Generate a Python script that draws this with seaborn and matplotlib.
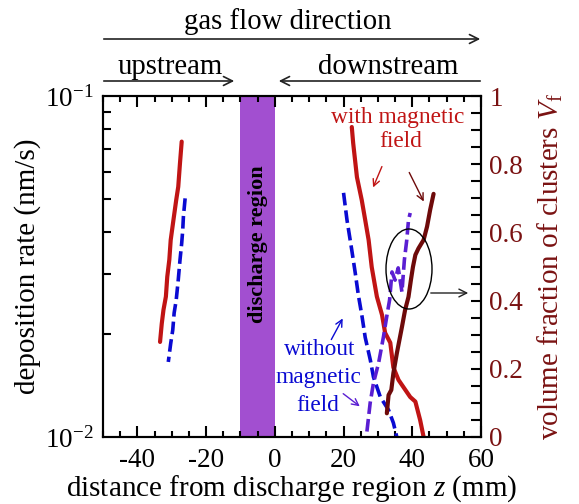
import numpy as np
import pandas as pd
import matplotlib
matplotlib.use("Agg")
import matplotlib.pyplot as plt
import seaborn as sns
from matplotlib.patches import Ellipse, FancyArrowPatch
from matplotlib.ticker import MultipleLocator, LogLocator, NullFormatter

# ---------------- data ----------------
# deposition rate with magnetic field (nm/s), upstream
up_with_z = [-27.1, -27.6, -28.1, -28.7, -29.5, -30.3, -30.7, -31.3, -31.7, -32.4, -32.9, -33.4]
up_with_r = [0.0735, 0.0635, 0.0542, 0.0495, 0.0433, 0.0378, 0.0331, 0.0295, 0.0258, 0.0236, 0.0215, 0.0190]
# deposition rate without magnetic field, upstream
up_wo_z = [-26.1, -26.6, -26.8, -27.1, -27.6, -28.1, -28.7, -29.3, -29.7, -30.3, -31.0]
up_wo_r = [0.0501, 0.0443, 0.0404, 0.0370, 0.0330, 0.0289, 0.0252, 0.0231, 0.0206, 0.0188, 0.0166]
# deposition rate with magnetic field, downstream
dn_with_z = [22.4, 22.8, 23.9, 25.3, 26.3, 27.3, 28.2, 29.7, 31.2, 32.1, 33.6, 34.5, 36.0, 39.4, 40.9, 42.3, 43.3]
dn_with_r = [0.0811, 0.0728, 0.0578, 0.0495, 0.0433, 0.0378, 0.0315, 0.0258, 0.0228, 0.0202,
             0.0189, 0.0160, 0.0147, 0.0131, 0.0127, 0.0112, 0.0100]
# deposition rate without magnetic field, downstream
dn_wo_z = [20.0, 21.0, 22.4, 23.4, 24.3, 25.4, 26.3, 27.8, 28.7, 30.7, 33.1, 34.5, 35.5]
dn_wo_r = [0.0520, 0.0433, 0.0353, 0.0303, 0.0261, 0.0225, 0.0196, 0.0168, 0.0150, 0.0131,
           0.0120, 0.0110, 0.0100]
# volume fraction of clusters Vf without magnetic field
vf_wo_z = [26.8, 27.75, 28.7, 30.2, 31.6, 32.6, 33.4, 34.1, 35.0, 35.9, 37.0, 37.7, 38.4, 38.9, 39.4]
vf_wo_v = [0.016, 0.100, 0.158, 0.217, 0.293, 0.355, 0.402, 0.484, 0.460, 0.496, 0.425, 0.519,
           0.578, 0.636, 0.657]
# volume fraction of clusters Vf with magnetic field
vf_with_z = [32.6, 33.1, 33.9, 34.5, 35.5, 37.0, 37.9, 38.9, 39.6, 40.2, 40.9, 41.8, 43.3, 44.3, 45.2, 46.2]
vf_with_v = [0.0695, 0.123, 0.138, 0.187, 0.245, 0.323, 0.372, 0.411, 0.460, 0.499, 0.534, 0.553,
             0.578, 0.617, 0.666, 0.713]

x_ticks = [-40, -20, 0, 20, 40, 60]
right_ticks = [0, 0.2, 0.4, 0.6, 0.8, 1]
right_tick_labels = ["0", "0.2", "0.4", "0.6", "0.8", "1"]
discharge_span = [-10, 0]

# ---------------- style ----------------
sns.set_style("ticks")
plt.rcParams["font.family"] = ["Liberation Serif", "DejaVu Serif"]
plt.rcParams["mathtext.fontset"] = "custom"
plt.rcParams["mathtext.rm"] = "Liberation Serif"
plt.rcParams["mathtext.it"] = "Liberation Serif:italic"
plt.rcParams["axes.unicode_minus"] = False
for k in ("text.color", "axes.labelcolor", "xtick.color", "ytick.color", "axes.edgecolor"):
    plt.rcParams[k] = "black"

RED = "#C01414"
BLUE = "#0A0AD2"
PURPLE = "#5A1ED2"
DARKRED = "#6E0A0A"
AXRED = "#7A1212"
BAND = "#A24FD0"

W, H = 579, 504
fig = plt.figure(figsize=(W / 100, H / 100), dpi=100)
L, R, T, B = 103, 481, 96, 437
ax = fig.add_axes([L / W, (H - B) / H, (R - L) / W, (B - T) / H])
ax2 = ax.twinx()

FS_TICK = 19.5
FS_LAB = 21
FS_TOP = 20.7
FS_ANN = 16.8

# discharge band
ax.axvspan(discharge_span[0], discharge_span[1], color=BAND, lw=0, zorder=0)
ax.text(-5, 0.0368, "discharge region", rotation=90, ha="center", va="center",
        fontsize=16, fontweight="bold", color="black", zorder=3)

def seg(z, v):
    return pd.DataFrame({"z": z, "v": v})

lw_solid = 3.0
lw_dash = 2.6
dash = (3.5, 1.4)

sns.lineplot(data=seg(up_with_z, up_with_r), x="z", y="v", sort=False, ax=ax,
             color=RED, lw=lw_solid, estimator=None)
sns.lineplot(data=seg(dn_with_z, dn_with_r), x="z", y="v", sort=False, ax=ax,
             color=RED, lw=lw_solid, estimator=None)
sns.lineplot(data=seg(up_wo_z, up_wo_r), x="z", y="v", sort=False, ax=ax,
             color=BLUE, lw=lw_dash, estimator=None)
sns.lineplot(data=seg(dn_wo_z, dn_wo_r), x="z", y="v", sort=False, ax=ax,
             color=BLUE, lw=lw_dash, estimator=None)
for ln in ax.lines[2:4]:
    ln.set_dashes(dash)

sns.lineplot(data=seg(vf_wo_z, vf_wo_v), x="z", y="v", sort=False, ax=ax2,
             color=PURPLE, lw=lw_dash, estimator=None)
ax2.lines[0].set_dashes(dash)
sns.lineplot(data=seg(vf_with_z, vf_with_v), x="z", y="v", sort=False, ax=ax2,
             color=DARKRED, lw=lw_solid, estimator=None)

# ---------------- axes ----------------
ax.set_yscale("log")
ax.set_xlim(-50, 60)
ax.set_ylim(0.01, 0.1)
ax2.set_ylim(0, 1)

ax.set_xticks(x_ticks)
ax.set_xticklabels([str(t) for t in x_ticks], fontsize=FS_TICK)
ax.xaxis.set_minor_locator(MultipleLocator(5))
ax.set_yticks([0.01, 0.1])
ax.set_yticklabels([r"$\mathregular{10^{-2}}$", r"$\mathregular{10^{-1}}$"], fontsize=FS_TICK)
ax.yaxis.set_minor_locator(LogLocator(base=10, subs=np.arange(2, 10)))
ax.yaxis.set_minor_formatter(NullFormatter())

ax2.set_yticks(right_ticks)
ax2.set_yticklabels(right_tick_labels, fontsize=FS_TICK, color=AXRED)
ax2.yaxis.set_minor_locator(MultipleLocator(0.05))

ax.tick_params(axis="x", which="both", direction="in", top=True, bottom=True, width=1.5, pad=8)
ax.tick_params(axis="x", which="major", length=8)
ax.tick_params(axis="x", which="minor", length=4)
ax.tick_params(axis="y", which="both", direction="in", right=False, width=1.5, pad=7)
ax.tick_params(axis="y", which="major", length=0)
ax.tick_params(axis="y", which="minor", length=6)
ax2.tick_params(axis="y", which="both", direction="in", width=1.5, pad=6)
ax2.tick_params(axis="y", which="major", length=7)
ax2.tick_params(axis="y", which="minor", length=7)
ax2.tick_params(axis="x", which="both", top=False, bottom=False)

for a in (ax, ax2):
    for s in a.spines.values():
        s.set_linewidth(1.5)
        s.set_color("black")

ax.set_xlabel(r"distance from discharge region $z$ (mm)", fontsize=FS_LAB, labelpad=0)
ax.set_ylabel("deposition rate (nm/s)", fontsize=FS_LAB, labelpad=3)
ax2.set_ylabel(r"volume fraction of clusters $V_{\mathrm{f}}$", fontsize=FS_LAB, color=AXRED, labelpad=9)

# ---------------- annotations ----------------
def px(x, y):
    return (x, H - y)

fig.text(288 / W, 1 - 22 / H, "gas flow direction", fontsize=FS_TOP, ha="center", va="center")
fig.text(170 / W, 1 - 67 / H, "upstream", fontsize=FS_TOP, ha="center", va="center")
fig.text(388 / W, 1 - 67 / H, "downstream", fontsize=FS_TOP, ha="center", va="center")
ap = dict(arrowstyle="->", color="#222222", lw=1.2, mutation_scale=16)
fig.add_artist(FancyArrowPatch(px(101, 39), px(483, 39), transform=None, **ap))
fig.add_artist(FancyArrowPatch(px(101, 81), px(237, 81), transform=None, **ap))
fig.add_artist(FancyArrowPatch(px(483, 81), px(276, 81), transform=None, **ap))

ax.text(35.8, 0.0862, "with magnetic", fontsize=FS_ANN, color=RED, ha="center", va="center")
ax.text(36.6, 0.0733, "field", fontsize=FS_ANN, color=RED, ha="center", va="center")
ax.text(13.2, 0.0180, "without", fontsize=FS_ANN, color=BLUE, ha="center", va="center")
ax.text(12.6, 0.0149, "magnetic", fontsize=FS_ANN, color=BLUE, ha="center", va="center")
ax.text(12.6, 0.0124, "field", fontsize=FS_ANN, color=BLUE, ha="center", va="center")

fig.add_artist(FancyArrowPatch(px(383, 164), px(372, 190), transform=None,
               arrowstyle="->", color=RED, lw=1.0, mutation_scale=12))
fig.add_artist(FancyArrowPatch(px(408, 170), px(425, 204), transform=None,
               arrowstyle="->", color=DARKRED, lw=1.0, mutation_scale=12))
fig.add_artist(FancyArrowPatch(px(330, 342), px(344, 316), transform=None,
               arrowstyle="->", color=BLUE, lw=1.0, mutation_scale=12))
fig.add_artist(FancyArrowPatch(px(341, 392), px(362, 408), transform=None,
               arrowstyle="->", color=PURPLE, lw=1.0, mutation_scale=12))

ell = Ellipse(px(409, 269), 46, 80, transform=None, fill=False, ec="black", lw=1.0)
fig.add_artist(ell)
fig.add_artist(FancyArrowPatch(px(428, 293), px(471, 293), transform=None,
               arrowstyle="->", color="#222222", lw=1.0, mutation_scale=14))

fig.savefig("out.png", dpi=100)
